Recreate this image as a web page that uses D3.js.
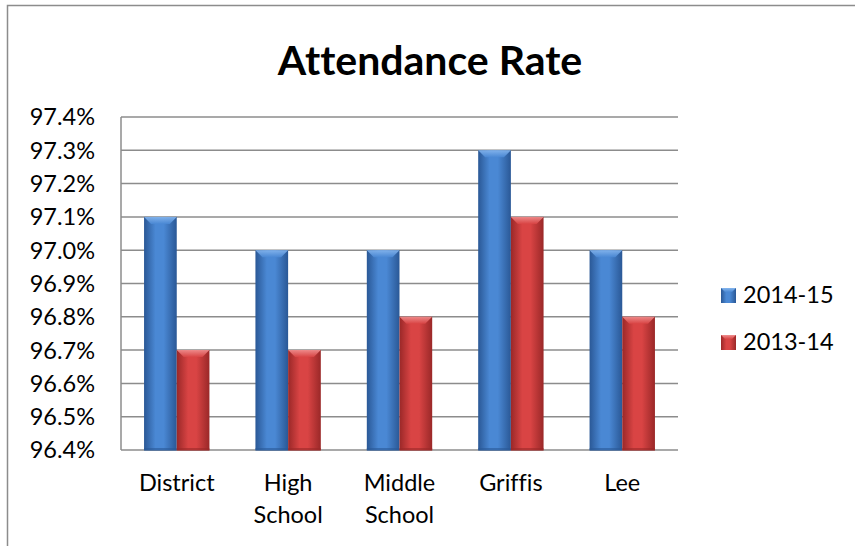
<!DOCTYPE html>
<html>
<head>
<meta charset="utf-8">
<script src="https://cdn.jsdelivr.net/npm/d3@7"></script>
<style>
  html, body { margin: 0; padding: 0; background: #fff; }
  svg { display: block; }
  text { font-family: Lato, "Open Sans", sans-serif; fill: #000; font-variant-ligatures: none; font-feature-settings: "liga" 0; }
</style>
</head>
<body>
<svg id="chart" width="855" height="546"></svg>
<script>
const categories = ["District", "High School", "Middle School", "Griffis", "Lee"];
const seriesNames = ["2014-15", "2013-14"];
const values2014 = [97.1, 97.0, 97.0, 97.3, 97.0];
const values2013 = [96.7, 96.7, 96.8, 97.1, 96.8];
const yTicks = [96.4, 96.5, 96.6, 96.7, 96.8, 96.9, 97.0, 97.1, 97.2, 97.3, 97.4];
const title = "Attendance Rate";

const seriesValues = [values2014, values2013];
const colors = {
  "2014-15": { edge: "#2a5896", mid: "#4a88d4", light: "#86b6ee" },
  "2013-14": { edge: "#9a2828", mid: "#d94444", light: "#f09090" }
};

const svg = d3.select("#chart");
const plot = { left: 121, right: 678, top: 117, bottom: 450 };

// outer border
svg.append("rect").attr("x", 7.5).attr("y", 5.5).attr("width", 900).attr("height", 600)
  .attr("fill", "none").attr("stroke", "#8c8c8c").attr("stroke-width", 1.5);

const defs = svg.append("defs");
seriesNames.forEach((s, i) => {
  const g = defs.append("linearGradient").attr("id", "grad" + i)
    .attr("x1", "0%").attr("x2", "100%").attr("y1", "0%").attr("y2", "0%");
  g.append("stop").attr("offset", "0%").attr("stop-color", colors[s].edge);
  g.append("stop").attr("offset", "35%").attr("stop-color", colors[s].mid);
  g.append("stop").attr("offset", "60%").attr("stop-color", colors[s].mid);
  g.append("stop").attr("offset", "100%").attr("stop-color", colors[s].edge);
  const b = defs.append("linearGradient").attr("id", "bevel" + i)
    .attr("x1", "0%").attr("x2", "0%").attr("y1", "0%").attr("y2", "100%");
  b.append("stop").attr("offset", "0%").attr("stop-color", colors[s].light);
  b.append("stop").attr("offset", "100%").attr("stop-color", colors[s].mid);
});

const y = d3.scaleLinear().domain([96.4, 97.4]).range([plot.bottom, plot.top]);
const x0 = d3.scaleBand().domain(categories).range([plot.left, plot.right])
  .paddingInner(0.413).paddingOuter(0.207);
const x1 = d3.scaleBand().domain(seriesNames).range([0, x0.bandwidth()]);

// gridlines
svg.append("g").selectAll("line").data(yTicks).join("line")
  .attr("x1", plot.left).attr("x2", plot.right)
  .attr("y1", d => y(d)).attr("y2", d => y(d))
  .attr("stroke", "#8c8c8c").attr("stroke-width", 1.5);

// y axis line
svg.append("line").attr("x1", plot.left).attr("x2", plot.left)
  .attr("y1", plot.top).attr("y2", plot.bottom)
  .attr("stroke", "#8c8c8c").attr("stroke-width", 1.5);

// y tick labels
svg.append("g").selectAll("text").data(yTicks).join("text")
  .attr("x", 95).attr("y", d => y(d)).attr("dy", "0.36em")
  .attr("text-anchor", "end").attr("font-size", 23.5)
  .text(d => d3.format(".1f")(d) + "%");

// bars
const groups = svg.append("g").selectAll("g").data(categories).join("g")
  .attr("transform", d => `translate(${x0(d)},0)`);

seriesNames.forEach((s, si) => {
  groups.each(function(c, ci) {
    const v = seriesValues[si][ci];
    const g = d3.select(this);
    const bx = x1(s), bw = x1.bandwidth();
    const top = y(v), bot = y(96.4);
    g.append("rect").attr("x", bx).attr("y", top).attr("width", bw).attr("height", bot - top)
      .attr("fill", `url(#grad${si})`);
    const bev = 7;
    g.append("polygon")
      .attr("points", [[bx, top], [bx + bw, top], [bx + bw - bev, top + bev], [bx + bev, top + bev]].map(p => p.join(",")).join(" "))
      .attr("fill", `url(#bevel${si})`).attr("opacity", 0.9);
    g.append("rect").attr("x", bx).attr("y", bot - 2).attr("width", bw).attr("height", 3)
      .attr("fill", colors[s].edge).attr("opacity", 0.6);
  });
});

// category labels
svg.append("g").selectAll("text").data(categories).join("text")
  .attr("x", d => x0(d) + x0.bandwidth() / 2)
  .attr("y", 491)
  .attr("text-anchor", "middle").attr("font-size", 23.5)
  .each(function(d) {
    const words = d.split(" ");
    d3.select(this).selectAll("tspan").data(words).join("tspan")
      .attr("x", x0(d) + x0.bandwidth() / 2)
      .attr("dy", (w, i) => i === 0 ? 0 : 32)
      .text(w => w);
  });

// title
svg.append("text").attr("x", 430).attr("y", 75).attr("text-anchor", "middle")
  .attr("font-size", 41).attr("font-weight", "bold").text(title);

// legend
const legend = svg.append("g").selectAll("g").data(seriesNames).join("g")
  .attr("transform", (d, i) => `translate(721,${288 + i * 47})`);
legend.append("rect").attr("width", 15).attr("height", 15)
  .attr("fill", (d, i) => `url(#grad${i})`);
legend.append("polygon").attr("points", "0,0 15,0 11,4 4,4")
  .attr("fill", (d, i) => `url(#bevel${i})`);
legend.append("text").attr("x", 22).attr("y", 15).attr("font-size", 23.5).text(d => d);
</script>
</body>
</html>
